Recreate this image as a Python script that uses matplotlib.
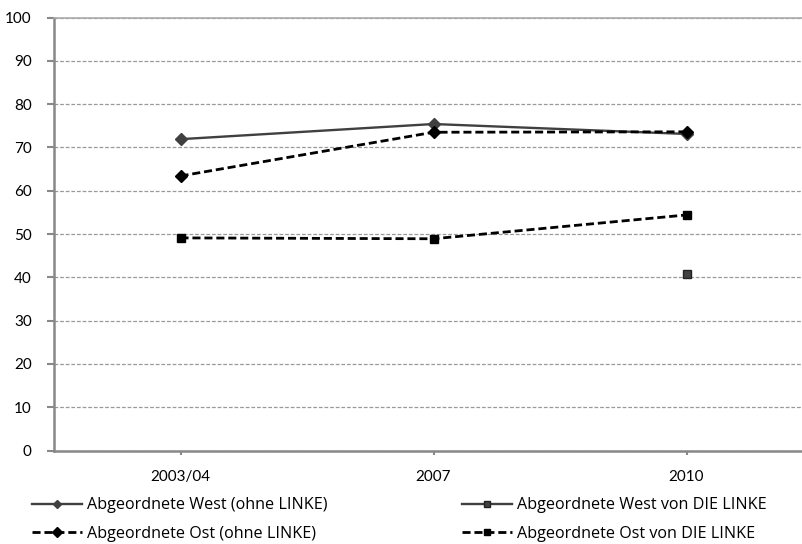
import matplotlib
matplotlib.use("Agg")
import matplotlib.pyplot as plt
from matplotlib.lines import Line2D

plt.rcParams['font.family'] = ['Lato', 'DejaVu Sans']

categories = ["2003/04", "2007", "2010"]
west_ohne = [71.9, 75.4, 73.1]
ost_ohne = [63.4, 73.5, 73.6]
ost_linke = [49.1, 48.9, 54.4]
west_linke = [None, None, 40.8]
labels = [
    "Abgeordnete West (ohne LINKE)",
    "Abgeordnete West von DIE LINKE",
    "Abgeordnete Ost (ohne LINKE)",
    "Abgeordnete Ost von DIE LINKE",
]
yticks = [0, 10, 20, 30, 40, 50, 60, 70, 80, 90, 100]

W, H = 802, 544
fig = plt.figure(figsize=(W / 100, H / 100), dpi=100)
left, right, top, bottom = 54, 813, 17.5, 450.5
ax = fig.add_axes([left / W, 1 - bottom / H, (right - left) / W, (bottom - top) / H])

x = list(range(len(categories)))
dark = "#404040"
dash = (0, (2.9, 1.4))

ax.plot(x, west_ohne, color=dark, lw=1.7, marker="D", ms=6, mfc=dark, mec=dark)
wl = [(i, v) for i, v in zip(x, west_linke) if v is not None]
ax.plot([p[0] for p in wl], [p[1] for p in wl], color=dark, ls="none",
        marker="s", ms=6, mfc=dark, mec="#222222")
ax.plot(x, ost_ohne, color="black", lw=2.0, ls=dash, marker="D", ms=6)
ax.plot(x, ost_linke, color="black", lw=2.0, ls=dash, marker="s", ms=6)

ax.set_xlim(-0.5, 2.5)
ax.set_ylim(0, 100)
ax.set_yticks(yticks)
ax.set_xticks(x)
ax.set_xticklabels(categories)
ax.tick_params(axis="both", labelsize=11, colors="#888888", labelcolor="black",
               width=1.5, length=5)
ax.tick_params(axis="x", length=3, pad=11)
ax.tick_params(axis="y", pad=11)
ax.grid(axis="y", color="#999999", ls=(0, (3, 1.5)), lw=0.9)
ax.set_axisbelow(True)
ax.spines["right"].set_visible(False)
ax.spines["top"].set_color("#aaaaaa")
ax.spines["top"].set_linewidth(1.2)
for s in ["left", "bottom"]:
    ax.spines[s].set_color("#888888")
    ax.spines[s].set_linewidth(1.8)

h_west_ohne = Line2D([], [], color=dark, lw=1.7, marker="D", ms=4)
h_west_linke = Line2D([], [], color=dark, lw=1.7, marker="s", ms=5, mec="#222222")
h_ost_ohne = Line2D([], [], color="black", lw=2.0, ls=dash, marker="D", ms=5)
h_ost_linke = Line2D([], [], color="black", lw=2.0, ls=dash, marker="s", ms=5)

fs = 11.6
fs_px = fs * 100 / 72
common = dict(frameon=False, prop={"family": "Open Sans", "size": fs},
              handlelength=50 / fs_px, handletextpad=5 / fs_px,
              labelspacing=0.75, borderaxespad=0, borderpad=0)
leg1 = fig.legend([h_west_ohne, h_ost_ohne], [labels[0], labels[2]],
                  loc="center left", bbox_to_anchor=(32 / W, 1 - 519.5 / H), **common)
leg2 = fig.legend([h_west_linke, h_ost_linke], [labels[1], labels[3]],
                  loc="center left", bbox_to_anchor=(462 / W, 1 - 519.5 / H), **common)

fig.savefig("out.png", dpi=100)
